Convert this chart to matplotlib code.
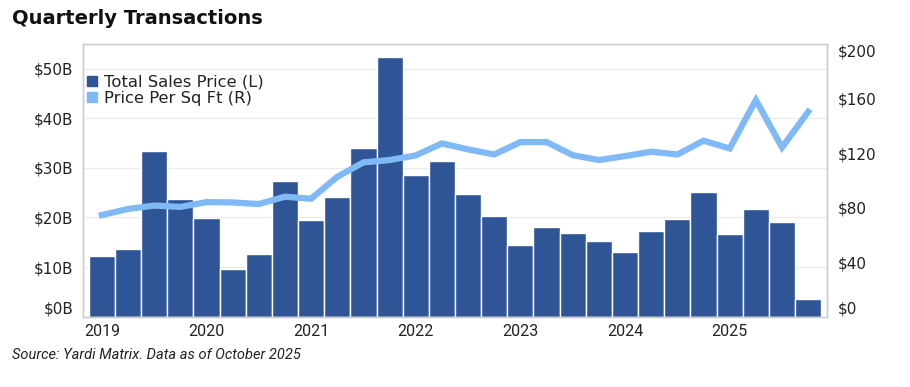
import matplotlib
matplotlib.use("Agg")
import matplotlib.pyplot as plt
from matplotlib.patches import Patch
from matplotlib import font_manager
import numpy as np

quarters = [f"{y} Q{q}" for y in range(2019, 2026) for q in range(1, 5)]
year_labels = ["2019", "2020", "2021", "2022", "2023", "2024", "2025"]
total_sales_b = [12.2, 13.6, 33.4, 23.7, 19.9, 9.6, 12.6, 27.4,
                 19.5, 24.1, 34.0, 52.5, 28.6, 31.4, 24.7, 20.3,
                 14.4, 18.1, 16.9, 15.3, 13.0, 17.3, 19.7, 25.2,
                 16.7, 21.7, 19.1, 3.5]
price_psf = [74.5, 79.0, 81.5, 80.5, 84.0, 83.8, 82.6, 88.0,
             86.5, 102.6, 113.2, 114.9, 118.3, 127.1, 122.7, 119.0,
             128.1, 128.1, 118.5, 114.9, 117.8, 121.0, 119.0, 129.1,
             123.4, 158.9, 124.2, 150.3]
left_ticks = [0, 10, 20, 30, 40, 50]
right_ticks = [0, 40, 80, 120, 160, 200]

bar_color = "#2F5597"
line_color = "#7FBAF6"
spine_color = "#CDCDCD"
txt = "#222222"

names = {f.name for f in font_manager.fontManager.ttflist}
narrow = "Liberation Sans Narrow" if "Liberation Sans Narrow" in names else "Roboto"
main = "DejaVu Sans"

fig = plt.figure(figsize=(9.1, 3.87), dpi=100)
ax = fig.add_axes([0.0912, 0.182, 0.8176, 0.704])
x = np.arange(len(quarters))
ax.bar(x, total_sales_b, width=1.0, color=bar_color, edgecolor="white", linewidth=1.0, zorder=2)
ax.set_xlim(-0.72, len(quarters) - 0.28)
ax.set_ylim(0, 55)
ax.set_yticks(left_ticks)
ax.set_yticklabels([f"${v}B" for v in left_ticks], fontsize=11, color=txt, family=main)
ax.yaxis.grid(True, color="#EBEBEB", linewidth=0.8, zorder=0)
ax.set_axisbelow(True)
ax.tick_params(axis="y", length=0, pad=7)
ax.set_xticks(x[::4])
ax.set_xticklabels(year_labels, fontsize=11.5, color=txt, family=narrow)
ax.tick_params(axis="x", length=0, pad=5)
for s in ax.spines.values():
    s.set_color(spine_color)
    s.set_linewidth(1.0)

ax2 = ax.twinx()
ax2.plot(x, price_psf, color=line_color, linewidth=4.5, solid_joinstyle="miter", zorder=3)
ax2.set_ylim(0, 200)
ax2.set_yticks(right_ticks)
ax2.set_yticklabels([f"${v}" for v in right_ticks], fontsize=11, color=txt, family=main)
ax2.tick_params(axis="y", length=0, pad=8)
for s in ax2.spines.values():
    s.set_color(spine_color)
    s.set_linewidth(1.0)

for lbl in ax.get_yticklabels():
    if lbl.get_text() == "$0B":
        lbl.set_va("bottom")
for lbl in ax2.get_yticklabels():
    if lbl.get_text() == "$0":
        lbl.set_va("bottom")
    if lbl.get_text() == "$200":
        lbl.set_va("top")

handles = [Patch(color=bar_color), Patch(color=line_color)]
ax.legend(handles, ["Total Sales Price (L)", "Price Per Sq Ft (R)"],
          loc="upper left", bbox_to_anchor=(-0.01, 0.93), frameon=False,
          handlelength=0.6, handleheight=0.6, handletextpad=0.45,
          labelspacing=0.08, borderaxespad=0.3,
          prop={"family": main, "size": 11.8}, labelcolor=txt)

fig.text(0.013, 0.953, "Quarterly Transactions", fontsize=14, fontweight="bold",
         family=main, color="#111111", va="center")
fig.text(0.013, 0.083, "Source: Yardi Matrix. Data as of October 2025", fontsize=10.5,
         style="italic", family=narrow, color=txt, va="center")

fig.savefig("out.png", dpi=100)
